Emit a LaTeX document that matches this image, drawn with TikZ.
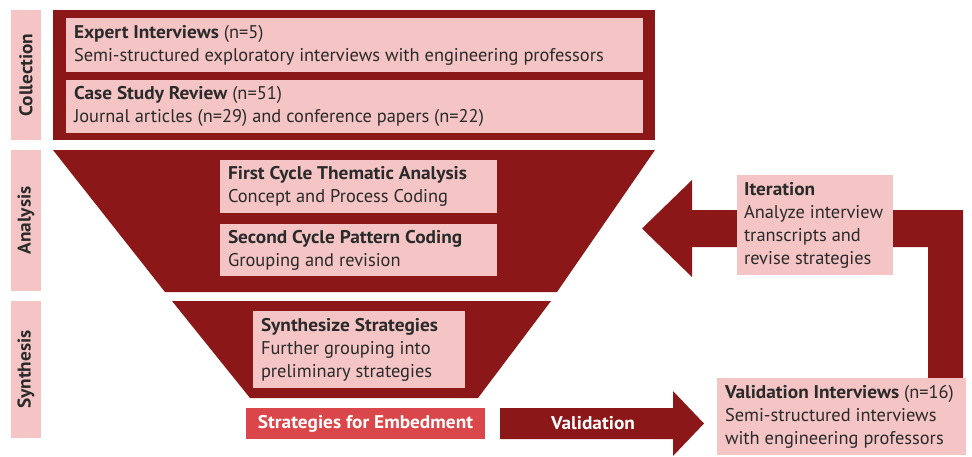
\documentclass[tikz,border=0pt]{standalone}
\usepackage{fontspec}
\setmainfont{PT Sans}[BoldFeatures={FakeStretch=1.05}]
\definecolor{maroon}{HTML}{8B1719}
\definecolor{blush}{HTML}{F5C4C5}
\definecolor{signal}{HTML}{DA474A}
\definecolor{ink}{HTML}{2A2A2A}
\begin{document}
\begin{tikzpicture}[x=1pt,y=-1pt,
  every node/.style={inner sep=0pt, outer sep=0pt},
  body/.style={font=\fontsize{18.4}{23}\selectfont},
  card/.style={body, fill=blush, text=ink, align=flush left, inner xsep=8pt, anchor=north west},
  phase/.style={fill=blush, text=ink, rotate=90, minimum height=30pt, font=\fontsize{18.4}{20}\selectfont\bfseries},
  band/.style={fill=maroon},
  tag/.style={text=white, font=\fontsize{18.4}{20}\selectfont\bfseries}
]
\useasboundingbox (0,0) rectangle (972,456);

% phase labels on the left
\node[phase, minimum width=130pt] (collection) at (26,75) {Collection};
\node[phase, minimum width=141pt] (analysis) at (26,220.5) {Analysis};
\node[phase, minimum width=137pt] (synthesis) at (26,369.5) {Synthesis};

% funnel bands
\path[band] (53,10) rectangle (655,140);
\path[band] (53,150) -- (655,150) -- (557,292) -- (165,292) -- cycle;
\path[band] (172,301) -- (551,301) -- (478,398) -- (250,398) -- cycle;

% collection
\node[card, text width=561pt, minimum height=54pt] (expert) at (66,18)
  {\textbf{Expert Interviews} (n=5)\\Semi-structured exploratory interviews with engineering professors};
\node[card, text width=561pt, minimum height=53pt] (cases) at (66,80)
  {\textbf{Case Study Review} (n=51)\\Journal articles (n=29) and conference papers (n=22)};

% analysis
\node[card, text width=261pt, minimum height=53pt] (first) at (220,160)
  {\textbf{First Cycle Thematic Analysis}\\Concept and Process Coding};
\node[card, text width=261pt, minimum height=52pt] (second) at (220,224)
  {\textbf{Second Cycle Pattern Coding}\\Grouping and revision};

% synthesis
\node[card, text width=196pt, minimum height=77pt] (synth) at (253,311)
  {\textbf{Synthesize Strategies}\\Further grouping into\\preliminary strategies};

% outcome
\node[tag, fill=signal, minimum width=239pt, minimum height=31pt] (outcome) at (365.5,423.5)
  {Strategies for Embedment};

% validation arrow
\path[band] (500,408) -- (673,408) -- (673,391) -- (704,423.5) -- (673,456)
  -- (673,439) -- (500,439) -- cycle;
\node[tag] (validation) at (593,423.5) {Validation};

% iteration loop arrow
\path[band] (963,378) -- (963,210) -- (692,210) -- (692,180) -- (642,228.5)
  -- (692,277) -- (692,247) -- (928,247) -- (928,378) -- cycle;

\node[card, inner xsep=7pt, text width=142pt, minimum height=100pt] (iteration) at (737,175)
  {\textbf{Iteration}\\Analyze interview\\transcripts and\\revise strategies};

\node[card, text width=233pt, minimum height=77pt] (valint) at (717,378)
  {\textbf{Validation Interviews} (n=16)\\Semi-structured interviews\\with engineering professors};
\end{tikzpicture}
\end{document}
